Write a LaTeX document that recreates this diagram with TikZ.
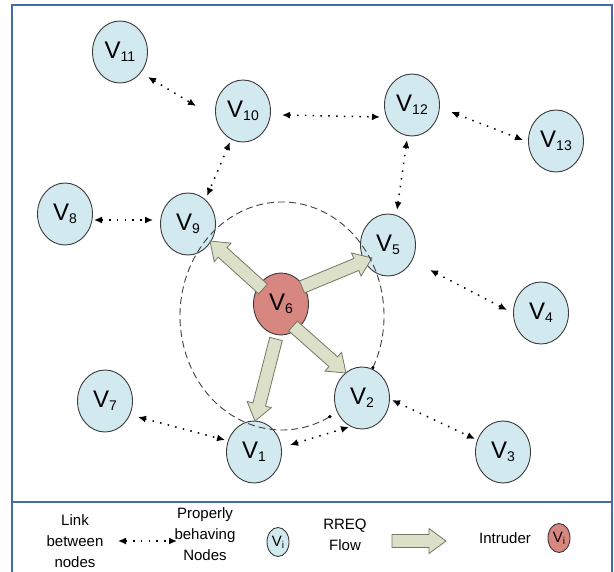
\documentclass[tikz,border=0pt]{standalone}
\usepackage{fontspec}
\setmainfont{Liberation Sans}
\usepackage{tikz}
\usetikzlibrary{shapes.geometric,arrows.meta,calc,positioning}

\definecolor{nodefill}{RGB}{210,233,240}
\definecolor{nodeedge}{RGB}{60,60,60}
\definecolor{intruder}{RGB}{215,134,128}
\definecolor{flowfill}{RGB}{221,224,200}
\definecolor{flowedge}{RGB}{115,120,100}
\definecolor{frameblue}{RGB}{68,106,168}

% node labels
\newcommand{\vsub}[1]{V\raisebox{-3pt}{\fontsize{14}{14}\selectfont #1}}
\newcommand{\keysub}[1]{V\raisebox{-2pt}{\fontsize{10}{10}\selectfont #1}}

\tikzset{
  vnode/.style={ellipse, draw=nodeedge, line width=0.9pt, fill=nodefill,
    minimum width=55pt, minimum height=62pt, inner sep=0pt,
    font=\fontsize{24}{24}\selectfont},
  keynode/.style={vnode, minimum width=22pt, minimum height=29pt,
    font=\fontsize{15}{15}\selectfont},
  link/.style={line width=1.5pt, dash pattern=on 1.5pt off 6.3pt,
    {Latex[length=8pt,width=7pt]}-{Latex[length=8pt,width=7pt]}},
  keytext/.style={align=center, font=\fontsize{15}{21}\selectfont},
  ring/.style={draw=black!75, line width=0.9pt, dash pattern=on 7pt off 4pt},
  frame/.style={draw=frameblue, line width=2pt},
  rreq/.style={fill=flowfill, draw=flowedge, line width=0.8pt, line join=miter,
    to path={
      ($(\tikztostart)!6.5pt!90:(\tikztotarget)$)
      -- ($(\tikztotarget)!17pt!(\tikztostart)!6.5pt!90:(\tikztotarget)$)
      -- ($(\tikztotarget)!17pt!(\tikztostart)!12.5pt!90:(\tikztotarget)$)
      -- (\tikztotarget)
      -- ($(\tikztotarget)!17pt!(\tikztostart)!12.5pt!-90:(\tikztotarget)$)
      -- ($(\tikztotarget)!17pt!(\tikztostart)!6.5pt!-90:(\tikztotarget)$)
      -- ($(\tikztostart)!6.5pt!-90:(\tikztotarget)$)
      -- cycle}}
}

\begin{document}
\begin{tikzpicture}[x=1pt, y=-1pt]
  \useasboundingbox (0,0) rectangle (614,572);

  % frame
  \draw[frame] (11.5,572) -- (11.5,5) -- (611.5,5) -- (611.5,572);
  \draw[frame] (11.5,501.5) -- (611.5,501.5);

  % nodes
  \node[vnode] (V11) at (120,52) {\vsub{11}};
  \node[vnode] (V10) at (243,111) {\vsub{10}};
  \node[vnode] (V12) at (412,105) {\vsub{12}};
  \node[vnode] (V13) at (556,141) {\vsub{13}};
  \node[vnode] (V8) at (65,214) {\vsub{8}};
  \node[vnode] (V9) at (188,224) {\vsub{9}};
  \node[vnode] (V5) at (388,245) {\vsub{5}};
  \node[vnode, fill=intruder] (V6) at (281,304) {\vsub{6}};
  \node[vnode] (V4) at (541,313) {\vsub{4}};
  \node[vnode] (V7) at (105,401) {\vsub{7}};
  \node[vnode] (V2) at (362,398) {\vsub{2}};
  \node[vnode] (V1) at (254,452) {\vsub{1}};
  \node[vnode] (V3) at (503,452) {\vsub{3}};

  % links
  \draw[link] ($(V11)+(28,25)$) -- ($(V10)+(-47,-5)$);
  \draw[link] ($(V10)+(39,4)$) -- ($(V12)+(-32,12)$);
  \draw[link] ($(V12)+(39,7)$) -- ($(V13)+(-33,-1)$);
  \draw[link] ($(V10)+(-13,31)$) -- ($(V9)+(19,-28)$);
  \draw[link] ($(V12)+(-5,35)$) -- ($(V5)+(9,-35)$);
  \draw[link] ($(V8)+(29,6)$) -- ($(V9)+(-35,-4)$);
  \draw[link] ($(V5)+(42,25)$) -- ($(V4)+(-34,-3)$);
  \draw[link] ($(V2)+(30,2)$) -- ($(V3)+(-28,-13)$);
  \draw[link] ($(V7)+(33,16)$) -- ($(V1)+(-29,-12)$);
  \draw[link] ($(V1)+(36,-7)$) -- ($(V2)+(-13,29)$);

  % RREQ flow from the intruder
  \coordinate (r9a) at ($(V6)+(-18,-15)$);
  \coordinate (r9b) at ($(V9)+(22,17)$);
  \coordinate (r5a) at ($(V6)+(21,-17)$);
  \coordinate (r5b) at ($(V5)+(-16,13)$);
  \coordinate (r2a) at ($(V6)+(12,22)$);
  \coordinate (r2b) at ($(V2)+(-16,-25)$);
  \coordinate (r1a) at ($(V6)+(-5,35)$);
  \coordinate (r1b) at ($(V1)+(1,-31)$);
  \draw[rreq] (r9a) to (r9b);
  \draw[rreq] (r5a) to (r5b);
  \draw[rreq] (r2a) to (r2b);
  \draw[rreq] (r1a) to (r1b);

  % range of V6
  \coordinate (ringc) at (282,316);
  \draw[ring] ($(ringc)+(27:102 and 114)$) coordinate (ringA)
    arc[start angle=27, end angle=-298, x radius=102, y radius=114] coordinate (ringB);
  \fill (ringA) circle (1.8);
  \fill (ringB) circle (1.8);

  % legend
  \node[keytext] (linkkey) at (75,541) {Link\\between\\nodes};
  \coordinate (keyA) at (118,541);
  \coordinate (keyB) at (177,541);
  \draw[link] (keyA) -- (keyB);
  \node[keytext] (goodkey) at (205,534) {Properly\\behaving\\Nodes};
  \node[keynode] (goodsym) at (278,542) {\keysub{i}};
  \node[keytext] (flowkey) at (345,535) {RREQ\\Flow};
  \coordinate (flowA) at (392,541);
  \coordinate (flowB) at (446,541);
  \draw[rreq] (flowA) to (flowB);
  \node[keytext] (badkey) at (505,538) {Intruder};
  \node[keynode, fill=intruder] (badsym) at (559,538) {\keysub{i}};
\end{tikzpicture}
\end{document}
